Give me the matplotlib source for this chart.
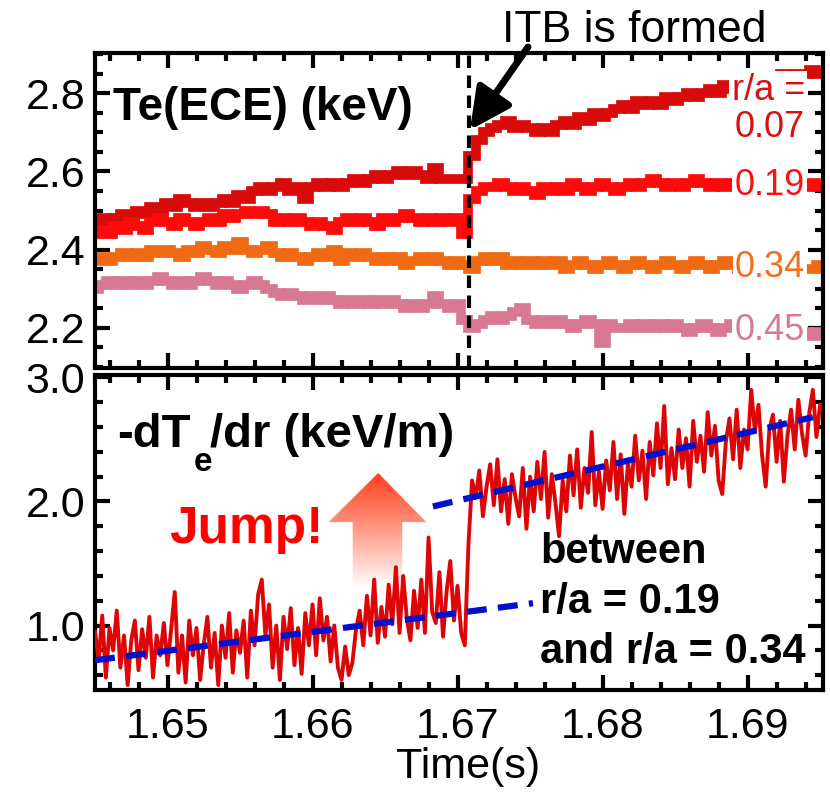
import numpy as np
import matplotlib
matplotlib.use("Agg")
import matplotlib.pyplot as plt
from matplotlib.patches import Polygon
from matplotlib.colors import LinearSegmentedColormap
from matplotlib.ticker import MultipleLocator

plt.rcParams['font.family'] = ['Liberation Sans', 'DejaVu Sans']

# ---- data ----
t_ece = 1.645 + 0.0005 * np.arange(101)
te_007 = [2.47, 2.48, 2.47, 2.48, 2.49, 2.48, 2.50, 2.49, 2.51, 2.50,
          2.52, 2.51, 2.53, 2.52, 2.51, 2.52, 2.51, 2.52, 2.53, 2.52,
          2.54, 2.53, 2.55, 2.56, 2.55, 2.56, 2.57, 2.55, 2.56, 2.53,
          2.56, 2.57, 2.56, 2.57, 2.56, 2.57, 2.58, 2.57, 2.58, 2.59,
          2.58, 2.59, 2.60, 2.59, 2.60, 2.59, 2.58, 2.61, 2.58, 2.58,
          2.58, 2.58,
          2.64, 2.68, 2.70, 2.71, 2.72, 2.73, 2.71, 2.72,
          2.71, 2.70, 2.71, 2.70, 2.72, 2.73, 2.72, 2.74, 2.73, 2.75,
          2.74, 2.75, 2.76, 2.77, 2.76, 2.78, 2.77, 2.78, 2.77, 2.79,
          2.78, 2.79, 2.80, 2.79, 2.80, 2.81, 2.80, 2.82, 2.81, 2.83,
          2.82, 2.83, 2.84, 2.83, 2.84, 2.85, 2.84, 2.85, 2.85, 2.86, 2.85]
te_019 = [2.44, 2.45, 2.44, 2.46, 2.45, 2.47, 2.46, 2.45, 2.47, 2.48,
          2.47, 2.46, 2.48, 2.47, 2.46, 2.47, 2.48, 2.47, 2.49, 2.48,
          2.49, 2.50, 2.49, 2.50, 2.49, 2.47, 2.48, 2.47, 2.48, 2.47,
          2.46, 2.47, 2.46, 2.45, 2.47, 2.48, 2.47, 2.48, 2.47, 2.46,
          2.48, 2.47, 2.48, 2.49, 2.48, 2.47, 2.48, 2.47, 2.48, 2.47,
          2.48, 2.44,
          2.53, 2.55, 2.56, 2.56, 2.57, 2.56, 2.55, 2.56,
          2.55, 2.54, 2.56, 2.55, 2.56, 2.55, 2.57, 2.56, 2.55, 2.56,
          2.57, 2.56, 2.55, 2.56, 2.57, 2.56, 2.57, 2.58, 2.57, 2.56,
          2.57, 2.56, 2.57, 2.58, 2.57, 2.56, 2.57, 2.56, 2.57, 2.56,
          2.57, 2.56, 2.57, 2.56, 2.57, 2.56, 2.57, 2.56, 2.56, 2.57, 2.56]
te_034 = [2.37, 2.38, 2.37, 2.38, 2.39, 2.38, 2.39, 2.38, 2.40, 2.39,
          2.40, 2.39, 2.38, 2.40, 2.39, 2.41, 2.40, 2.39, 2.41, 2.40,
          2.42, 2.40, 2.39, 2.40, 2.41, 2.39, 2.38, 2.39, 2.38, 2.37,
          2.38, 2.39, 2.38, 2.40, 2.37, 2.39, 2.38, 2.39, 2.38, 2.37,
          2.38, 2.37, 2.38, 2.36, 2.37, 2.38, 2.37, 2.38, 2.37, 2.36,
          2.37, 2.36,
          2.35, 2.37, 2.38, 2.37, 2.38, 2.36, 2.37, 2.36,
          2.37, 2.36, 2.37, 2.36, 2.37, 2.35, 2.36, 2.37, 2.36, 2.35,
          2.36, 2.37, 2.36, 2.35, 2.36, 2.37, 2.36, 2.35, 2.36, 2.37,
          2.36, 2.35, 2.36, 2.37, 2.36, 2.35, 2.36, 2.37, 2.36, 2.35,
          2.36, 2.35, 2.36, 2.35, 2.36, 2.35, 2.35, 2.36, 2.35, 2.35, 2.36]
te_045 = [2.30, 2.31, 2.32, 2.31, 2.32, 2.31, 2.32, 2.31, 2.32, 2.33,
          2.32, 2.31, 2.32, 2.31, 2.32, 2.33, 2.32, 2.31, 2.32, 2.31,
          2.30, 2.31, 2.32, 2.31, 2.30, 2.29, 2.28, 2.29, 2.28, 2.27,
          2.28, 2.27, 2.28, 2.27, 2.26, 2.27, 2.26, 2.27, 2.26, 2.27,
          2.26, 2.27, 2.26, 2.25, 2.26, 2.25, 2.26, 2.28, 2.26, 2.25,
          2.26, 2.22,
          2.20, 2.21, 2.22, 2.23, 2.22, 2.23, 2.24, 2.25,
          2.22, 2.21, 2.22, 2.21, 2.22, 2.21, 2.20, 2.21, 2.22, 2.21,
          2.16, 2.21, 2.20, 2.20, 2.21, 2.20, 2.21, 2.20, 2.21, 2.20,
          2.21, 2.20, 2.19, 2.20, 2.21, 2.20, 2.19, 2.20, 2.21, 2.20,
          2.19, 2.20, 2.19, 2.20, 2.19, 2.18, 2.19, 2.18, 2.19, 2.18, 2.19]
ece_series = [te_007, te_019, te_034, te_045]
ece_colors = ['#d90a0a', '#ff0a0a', '#ef6a12', '#d97893']

t_grad = 1.645 + 0.00025 * np.arange(201)
dtedr = [0.95, 0.72, 1.08, 0.58, 0.98, 0.80, 1.12, 0.66, 0.92, 0.52,
         0.88, 1.04, 0.64, 0.97, 0.74, 1.07, 0.58, 0.92, 0.76, 1.02,
         0.68, 0.97, 1.27, 0.62, 0.92, 0.54, 1.04, 0.76, 0.98, 0.56,
         0.85, 1.07, 0.66, 0.94, 0.52, 1.00, 0.74, 1.10, 0.62, 0.96,
         0.78, 1.04, 0.58, 1.12, 0.84, 1.25, 1.37, 0.92, 1.17, 0.66,
         1.00, 0.56, 1.07, 0.81, 1.14, 0.68, 0.98, 0.61, 1.10, 0.84,
         1.17, 0.76, 1.22, 0.88, 1.07, 0.71, 1.00, 0.66, 0.56, 0.83,
         0.60, 0.70, 0.97, 1.12, 0.84, 1.24, 0.92, 1.37, 0.86, 1.15,
         0.91, 1.33, 1.01, 1.47, 0.94, 1.40, 1.06, 0.88, 1.28, 0.98,
         1.37, 0.94, 1.71, 1.11, 1.02, 1.43, 0.91, 1.28, 1.52, 1.04,
         1.32, 0.94, 0.84,
         1.65,
         2.17, 2.03, 2.25, 1.88, 2.12, 2.30, 1.97, 2.34, 1.92, 2.18,
         1.82, 2.22, 2.03, 1.88, 2.27, 1.78,
         2.20, 1.92, 2.32, 2.02, 2.40, 1.87, 2.22, 1.99, 1.72, 2.17,
         1.92, 2.37, 2.05, 2.42, 1.95, 2.27, 2.07, 2.56, 1.97, 2.24,
         1.94, 2.33, 2.09, 2.48, 2.02, 2.38, 1.90, 2.31, 2.12, 2.53,
         2.17, 2.41, 2.02, 2.48, 2.21, 2.63, 2.27, 2.77, 2.14, 2.43,
         2.18, 2.58, 2.27, 2.51, 2.12, 2.65, 2.32, 2.53, 2.24, 2.72,
         2.37, 2.61, 2.17, 2.06, 2.48, 2.67, 2.34, 2.74, 2.27, 2.58,
         2.42, 2.90, 2.57, 2.78, 2.37, 2.12, 2.58, 2.70, 2.32, 2.65,
         2.16, 2.53, 2.74, 2.42, 2.82, 2.55, 2.37, 2.71, 2.90, 2.52, 2.78]

fit_before_t = [1.645, 1.6752]
fit_before_v = [0.72, 1.18]
fit_after_t = [1.6683, 1.6945]
fit_after_v = [1.96, 2.68]

t_itb = 1.6708

# ---- figure ----
fig = plt.figure(figsize=(8.3, 7.93), dpi=100)
ax1 = fig.add_axes([95/830, 1-368/793, 728/830, 315/793])
ax2 = fig.add_axes([95/830, 1-690/793, 728/830, 315/793])

for ax in (ax1, ax2):
    for s in ax.spines.values():
        s.set_linewidth(3)
    ax.set_xlim(1.645, 1.6952)
    ax.xaxis.set_major_locator(MultipleLocator(0.01))
    ax.xaxis.set_minor_locator(MultipleLocator(0.002))
    ax.tick_params(which='both', direction='in', top=True, right=True, width=3)
    ax.tick_params(which='major', length=11, labelsize=31, pad=7)
    ax.tick_params(which='minor', length=6)

# top panel: ECE temperatures
for vals, c in zip(ece_series, ece_colors):
    ax1.plot(t_ece, vals, color=c, lw=7, drawstyle='steps-mid', solid_joinstyle='miter')
ax1.axvline(t_itb, color='k', lw=3, dashes=(3.0, 1.8))
ax1.set_ylim(2.097, 2.903)
ax1.yaxis.set_major_locator(MultipleLocator(0.2))
ax1.yaxis.set_minor_locator(MultipleLocator(0.05))
ax1.set_yticks([2.2, 2.4, 2.6, 2.8])
ax1.set_yticklabels(['2.2', '2.4', '2.6', '2.8'])
ax1.tick_params(labelbottom=False)

ax1.text(0.025, 0.787, 'Te(ECE) (keV)', transform=ax1.transAxes,
         fontsize=33, fontweight='bold', ha='left', va='baseline')

lab_box = dict(fc='white', ec='none', pad=1.5)
ax1.text(0.975, 0.851, 'r/a =', transform=ax1.transAxes, fontsize=26,
         color='#d81010', ha='right', va='baseline', bbox=lab_box)
ax1.text(0.975, 0.733, '0.07', transform=ax1.transAxes, fontsize=26,
         color='#d81010', ha='right', va='baseline', bbox=lab_box)
ax1.text(0.975, 0.549, '0.19', transform=ax1.transAxes, fontsize=26,
         color='#ff1010', ha='right', va='baseline', bbox=lab_box)
ax1.text(0.975, 0.289, '0.34', transform=ax1.transAxes, fontsize=26,
         color='#f07020', ha='right', va='baseline', bbox=lab_box)
ax1.text(0.975, 0.089, '0.45', transform=ax1.transAxes, fontsize=26,
         color='#d87a95', ha='right', va='baseline', bbox=lab_box)

# bottom panel: gradient
ax2.plot(t_grad, dtedr, color='#dd0505', lw=2.8, zorder=3)
ax2.plot(fit_before_t, fit_before_v, color='#0010cc', lw=4.5, dashes=(3.2, 1.8), zorder=4)
ax2.plot(fit_after_t, fit_after_v, color='#0010cc', lw=4.5, dashes=(3.2, 1.8), zorder=4)
ax2.set_ylim(0.48, 3.02)
ax2.yaxis.set_major_locator(MultipleLocator(1.0))
ax2.yaxis.set_minor_locator(MultipleLocator(0.2))
ax2.set_yticks([1.0, 2.0, 3.0])
ax2.set_yticklabels(['1.0', '2.0', '3.0'])
ax2.set_xticks([1.65, 1.66, 1.67, 1.68, 1.69])
ax2.set_xticklabels(['1.65', '1.66', '1.67', '1.68', '1.69'])
ax2.tick_params(axis='x', pad=12)

# gradient "jump" arrow
arrow_pts = [(0.354, 0.327), (0.422, 0.327), (0.422, 0.533), (0.455, 0.533),
             (0.389, 0.689), (0.321, 0.533), (0.354, 0.533)]
poly = Polygon(arrow_pts, closed=True, transform=ax2.transAxes, fc='none', ec='none')
ax2.add_patch(poly)
cmap = LinearSegmentedColormap.from_list('jump', ['white', '#ff9a85', '#ff3c1c'])
grad = np.linspace(0, 1, 256).reshape(-1, 1)
im = ax2.imshow(grad, extent=[0.321, 0.455, 0.327, 0.689], transform=ax2.transAxes,
                cmap=cmap, aspect='auto', origin='lower', zorder=1, interpolation='bilinear')
im.set_clip_path(poly)
ax2.set_xlim(1.645, 1.6952)
ax2.set_ylim(0.48, 3.02)

ax2.text(0.030, 0.771, '-dT', transform=ax2.transAxes, fontsize=34,
         fontweight='bold', ha='left', va='baseline')
ax2.text(0.135, 0.695, 'e', transform=ax2.transAxes, fontsize=24,
         fontweight='bold', ha='left', va='baseline')
ax2.text(0.158, 0.771, '/dr (keV/m)', transform=ax2.transAxes, fontsize=34,
         fontweight='bold', ha='left', va='baseline')
ax2.text(0.1016, 0.467, 'Jump!', transform=ax2.transAxes, fontsize=37,
         fontweight='bold', color='#ff0000', ha='left', va='baseline')
ax2.text(0.611, 0.403, 'between', transform=ax2.transAxes, fontsize=30,
         fontweight='bold', ha='left', va='baseline')
ax2.text(0.611, 0.244, 'r/a = 0.19', transform=ax2.transAxes, fontsize=30,
         fontweight='bold', ha='left', va='baseline')
ax2.text(0.611, 0.086, 'and r/a = 0.34', transform=ax2.transAxes, fontsize=30,
         fontweight='bold', ha='left', va='baseline')

ax2.set_xlabel('Time(s)', fontsize=31)
ax2.xaxis.set_label_coords(0.512, -0.18)

# ITB annotation
fig.text(634/830, 1-42/793, 'ITB is formed', fontsize=32, ha='center', va='baseline')
ax1.annotate('', xy=(470/830, 1-130/793), xytext=(528/830, 1-47/793),
             xycoords='figure fraction', textcoords='figure fraction',
             arrowprops=dict(arrowstyle='-|>,head_length=1.0,head_width=0.5',
                             lw=5, color='k', mutation_scale=25,
                             shrinkA=0, shrinkB=0),
             annotation_clip=False)

fig.savefig('out.png', dpi=100)
